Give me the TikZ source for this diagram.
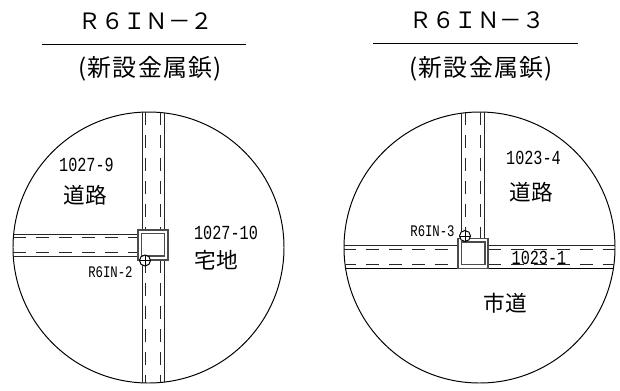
\documentclass[tikz,border=0pt]{standalone}
\usepackage{fontspec}
\setmainfont{Noto Sans CJK JP}
\newfontfamily\halffont[FakeStretch=0.76]{Liberation Mono}
\newfontfamily\widefont[LetterSpace=5]{Noto Sans CJK JP}
\begin{document}
\begin{tikzpicture}[
    x=0.025cm, y=-0.025cm,
    line width=0.7pt,
    title/.style={font=\fontsize{16pt}{18pt}\selectfont, inner sep=0pt},
    subtitle/.style={font=\widefont\fontsize{17pt}{19pt}\selectfont, inner sep=0pt},
    place/.style={font=\fontsize{15.4pt}{17pt}\selectfont, inner sep=0pt},
    parcel/.style={font=\halffont\fontsize{14.2pt}{16pt}\selectfont, inner sep=0pt},
    pointname/.style={font=\halffont\fontsize{11.5pt}{13pt}\selectfont, inner sep=0pt},
    roadedge/.style={draw=black!85},
    roadmid/.style={draw=black!85, line width=0.6pt, dash pattern=on 9.2pt off 7.1pt},
    boxedge/.style={draw=black!70, line width=0.8pt}
]
    \useasboundingbox (0, 0) rectangle (620, 390);

    % Titolo sinistra
    \node[title] (titleA) at (146, 21) {^^^^ff32^^^^ff16^^^^ff29^^^^ff2e^^^^ff0d^^^^ff12};
    \draw (42, 44) -- (246, 44);
    \node[subtitle] (subA) at (150, 69) {(新設金属鋲)};

    % Titolo destra
    \node[title] (titleB) at (477, 20) {^^^^ff32^^^^ff16^^^^ff29^^^^ff2e^^^^ff0d^^^^ff13};
    \draw (373, 43) -- (578, 43);
    \node[subtitle] (subB) at (481, 69) {(新設金属鋲)};

    % Cerchio sinistra
    \draw (148.5, 247.5) circle[radius=135.5];
    \begin{scope}
        \clip (148.5, 247.5) circle[radius=135.5];
        \draw[roadedge] (142, 112) -- (142, 230);
        \draw[roadedge] (164, 112) -- (164, 230);
        \draw[roadedge] (142, 260) -- (142, 383);
        \draw[roadedge] (164, 260) -- (164, 383);
        \draw[roadmid] (145.5, 112) -- (145.5, 230);
        \draw[roadmid] (160.5, 112) -- (160.5, 230);
        \draw[roadmid] (145.5, 260) -- (145.5, 383);
        \draw[roadmid] (160.5, 260) -- (160.5, 383);
        \draw[roadedge] (13, 234) -- (138, 234);
        \draw[roadedge] (13, 256) -- (138, 256);
        \draw[roadmid] (13, 237) -- (138, 237);
        \draw[roadmid] (13, 252.5) -- (138, 252.5);
    \end{scope}
    \draw[boxedge] (138, 230) rectangle (168, 260);
    \draw[boxedge] (141.5, 233.5) rectangle (164.5, 256);
    \draw[fill=white] (145, 260.5) circle[radius=5.5];
    \draw (139.5, 260.5) -- (150.5, 260.5);
    \draw (145, 255) -- (145, 266);
    \node[parcel] (lotA) at (86.5, 165) {1027-9};
    \node[place] (roadA) at (85, 195) {道路};
    \node[parcel] (lotB) at (226, 233) {1027-10};
    \node[place] (homeA) at (216, 260) {宅地};
    \node[pointname] (pointA) at (110.5, 272) {R6IN-2};

    % Cerchio destra
    \draw (479.5, 247.5) circle[radius=135.5];
    \begin{scope}
        \clip (479.5, 247.5) circle[radius=135.5];
        \draw[roadedge] (461.5, 112) -- (461.5, 238);
        \draw[roadedge] (484, 112) -- (484, 238);
        \draw[roadmid] (465, 112) -- (465, 238);
        \draw[roadmid] (480, 112) -- (480, 238);
        \draw[roadedge] (343, 245.5) -- (458, 245.5);
        \draw[roadedge] (488, 245.5) -- (616, 245.5);
        \draw (343, 268.5) -- (616, 268.5);
        \draw[roadmid] (343, 249) -- (458, 249);
        \draw[roadmid] (343, 264) -- (458, 264);
        \draw[roadmid] (488, 249) -- (616, 249);
        \draw[roadmid] (488, 264) -- (616, 264);
    \end{scope}
    \draw[boxedge] (458, 238.5) rectangle (488, 268.5);
    \draw[boxedge] (461.5, 242) rectangle (485, 264.5);
    \draw[fill=white] (465, 236) circle[radius=5.5];
    \draw (459.5, 236) -- (470.5, 236);
    \draw (465, 230.5) -- (465, 241.5);
    \node[parcel] (lotC) at (533.5, 158) {1023-4};
    \node[place] (roadB) at (531, 192) {道路};
    \node[parcel] (lotD) at (539, 257.5) {1023-1};
    \node[place] (roadC) at (505, 303) {市道};
    \node[pointname] (pointB) at (432.5, 231.5) {R6IN-3};
\end{tikzpicture}
\end{document}
